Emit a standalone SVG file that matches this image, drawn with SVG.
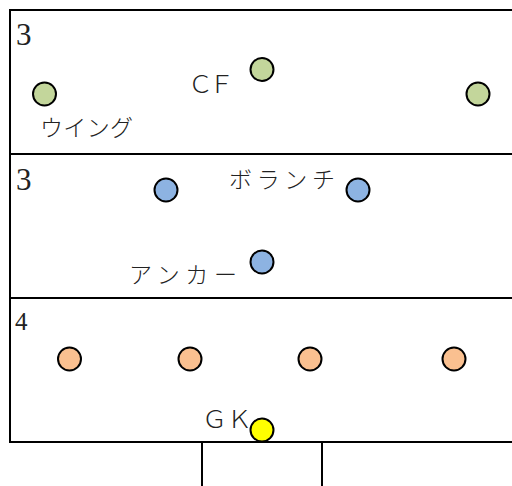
<svg xmlns="http://www.w3.org/2000/svg" width="512" height="486" viewBox="0 0 512 486">
<style>
.line{fill:none;stroke:#000;stroke-width:2}
.p{stroke:#000;stroke-width:2}
.fw{fill:#c3d69b}
.mf{fill:#8db3e2}
.df{fill:#fac090}
.gk{fill:#ffff00}
.num{font-family:"Liberation Serif","DejaVu Serif",serif;fill:#222}
.lbl{font-family:"Liberation Serif","Noto Sans CJK JP",sans-serif;font-size:23px;fill:#222;font-weight:300}
.lat{font-size:25px}
</style>
<rect width="512" height="486" fill="#fff"/>
<g id="field">
<rect class="line" x="10" y="10" width="520" height="432"/>
<line class="line" x1="10" y1="154" x2="520" y2="154"/>
<line class="line" x1="10" y1="298" x2="520" y2="298"/>
<rect class="line" x="202" y="442" width="120" height="60"/>
</g>
<g id="zone-fw"><text class="num" x="16" y="45" font-size="31">3</text></g>
<g id="zone-mf"><text class="num" x="16" y="190" font-size="31">3</text></g>
<g id="zone-df"><text class="num" x="15" y="330" font-size="25">4</text></g>
<g id="wing-left"><circle class="p fw" cx="44.5" cy="94" r="11.5"/><text class="lbl" x="40" y="136" textLength="93" lengthAdjust="spacing">ウイング</text></g>
<g id="cf"><circle class="p fw" cx="262" cy="69.5" r="11.5"/><text class="lbl lat" x="188" y="93" textLength="46" lengthAdjust="spacing">ＣＦ</text></g>
<g id="wing-right"><circle class="p fw" cx="478" cy="94" r="11.5"/></g>
<g id="mf-left"><circle class="p mf" cx="166" cy="190" r="11.5"/></g>
<g id="branchi"><circle class="p mf" cx="358" cy="190" r="11.5"/><text class="lbl" x="229" y="187.5" textLength="106" lengthAdjust="spacing">ボランチ</text></g>
<g id="anchor"><circle class="p mf" cx="262" cy="262" r="11.5"/><text class="lbl" x="129" y="282.5" textLength="108" lengthAdjust="spacing">アンカー</text></g>
<g id="df-1"><circle class="p df" cx="69.5" cy="359" r="11.5"/></g>
<g id="df-2"><circle class="p df" cx="190" cy="359" r="11.5"/></g>
<g id="df-3"><circle class="p df" cx="310" cy="359" r="11.5"/></g>
<g id="df-4"><circle class="p df" cx="454" cy="359" r="11.5"/></g>
<g id="gk"><text class="lbl lat" x="202" y="428" textLength="50" lengthAdjust="spacing">ＧＫ</text><circle class="p gk" cx="262" cy="430" r="11.5"/></g>
<g id="connectors"/>
</svg>
